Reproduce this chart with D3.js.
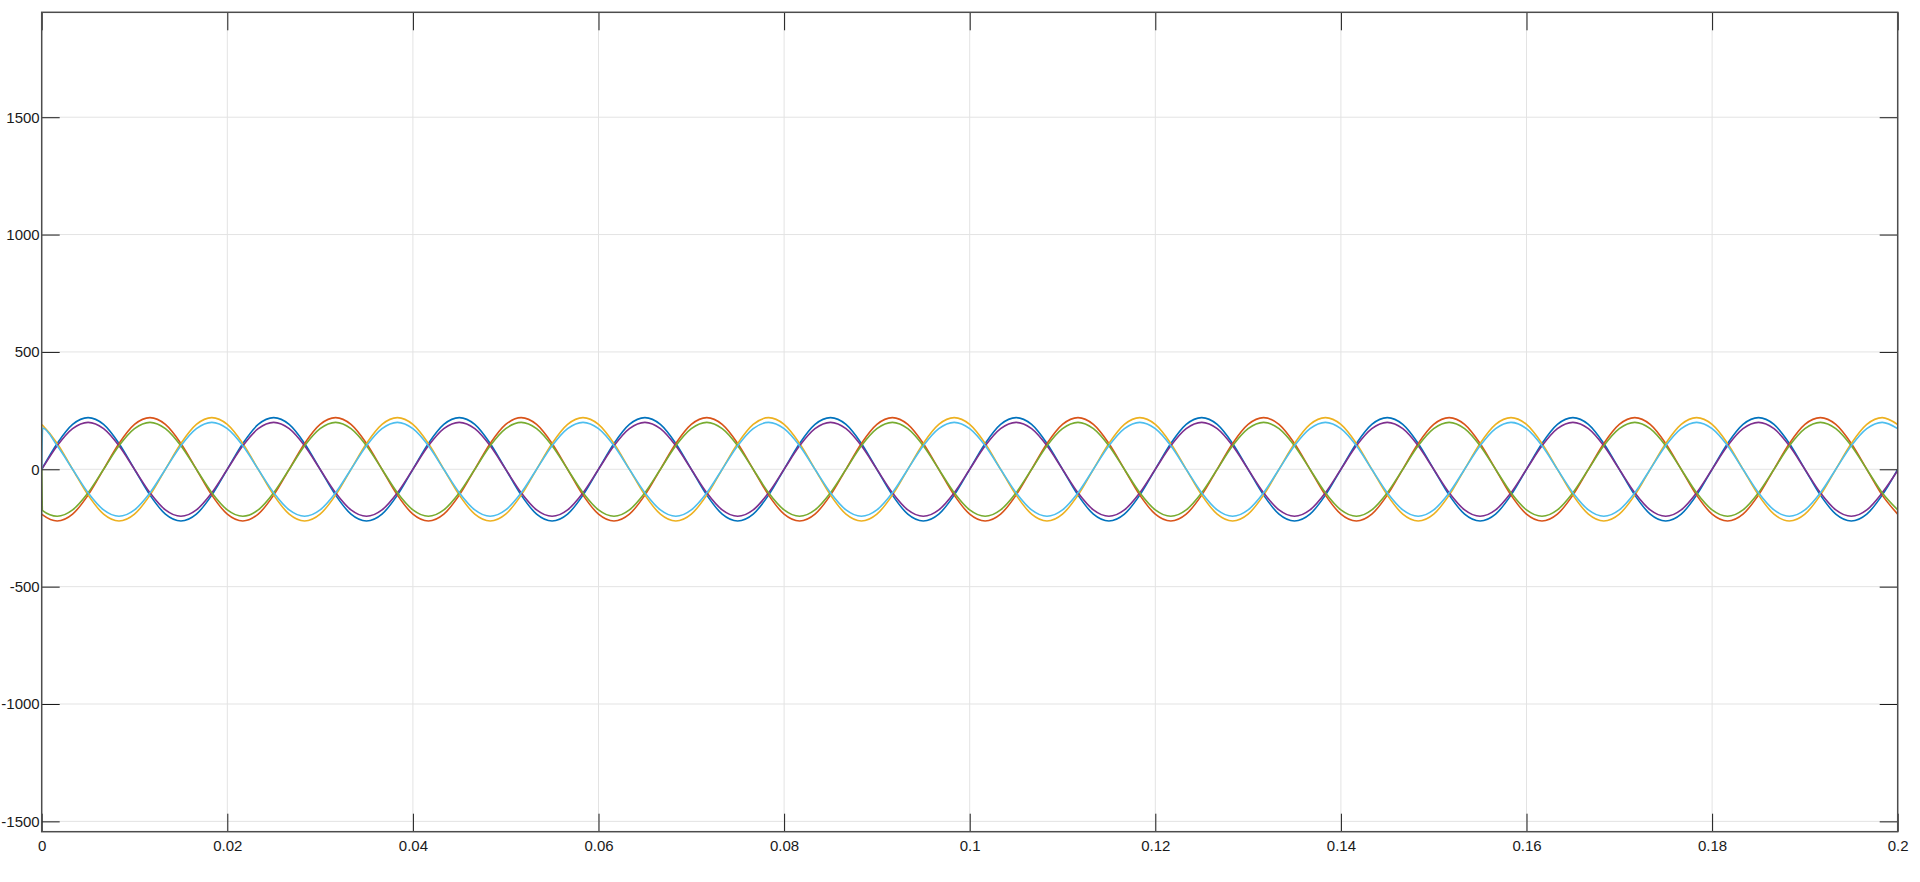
<!DOCTYPE html>
<html>
<head>
<meta charset="utf-8">
<script src="https://cdn.jsdelivr.net/npm/d3@7"></script>
<style>
  html, body { margin: 0; padding: 0; background: #fff; }
  svg { display: block; }
</style>
</head>
<body>
<svg id="chart" width="1920" height="882"></svg>
<script>
// ---- Data (time in seconds) ----
const time = [
  0,0.0001,0.00167,0.00333,0.005,0.00667,0.00833,0.01,0.01167,0.01333,0.015,0.01667,0.01833,
  0.02,0.02167,0.02333,0.025,0.02667,0.02833,0.03,0.03167,0.03333,0.035,0.03667,0.03833,
  0.04,0.04167,0.04333,0.045,0.04667,0.04833,0.05,0.05167,0.05333,0.055,0.05667,0.05833,
  0.06,0.06167,0.06333,0.065,0.06667,0.06833,0.07,0.07167,0.07333,0.075,0.07667,0.07833,
  0.08,0.08167,0.08333,0.085,0.08667,0.08833,0.09,0.09167,0.09333,0.095,0.09667,0.09833,
  0.1,0.10167,0.10333,0.105,0.10667,0.10833,0.11,0.11167,0.11333,0.115,0.11667,0.11833,
  0.12,0.12167,0.12333,0.125,0.12667,0.12833,0.13,0.13167,0.13333,0.135,0.13667,0.13833,
  0.14,0.14167,0.14333,0.145,0.14667,0.14833,0.15,0.15167,0.15333,0.155,0.15667,0.15833,
  0.16,0.16167,0.16333,0.165,0.16667,0.16833,0.17,0.17167,0.17333,0.175,0.17667,0.17833,
  0.18,0.18167,0.18333,0.185,0.18667,0.18833,0.19,0.19167,0.19333,0.195,0.19667,0.19833,
  0.2
];

const seriesBlue = [
  0,7,110,191,220,191,110,0,-110,-191,-220,-191,-110,
  0,110,191,220,191,110,0,-110,-191,-220,-191,-110,
  0,110,191,220,191,110,0,-110,-191,-220,-191,-110,
  0,110,191,220,191,110,0,-110,-191,-220,-191,-110,
  0,110,191,220,191,110,0,-110,-191,-220,-191,-110,
  0,110,191,220,191,110,0,-110,-191,-220,-191,-110,
  0,110,191,220,191,110,0,-110,-191,-220,-191,-110,
  0,110,191,220,191,110,0,-110,-191,-220,-191,-110,
  0,110,191,220,191,110,0,-110,-191,-220,-191,-110,
  0,110,191,220,191,110,0,-110,-191,-220,-191,-110,
  0
];
const seriesOrange = [
  -191,-194,-220,-191,-110,0,110,191,220,191,110,0,-110,
  -191,-220,-191,-110,0,110,191,220,191,110,0,-110,
  -191,-220,-191,-110,0,110,191,220,191,110,0,-110,
  -191,-220,-191,-110,0,110,191,220,191,110,0,-110,
  -191,-220,-191,-110,0,110,191,220,191,110,0,-110,
  -191,-220,-191,-110,0,110,191,220,191,110,0,-110,
  -191,-220,-191,-110,0,110,191,220,191,110,0,-110,
  -191,-220,-191,-110,0,110,191,220,191,110,0,-110,
  -191,-220,-191,-110,0,110,191,220,191,110,0,-110,
  -191,-220,-191,-110,0,110,191,220,191,110,0,-110,
  -191
];
const seriesYellow = [
  191,187,110,0,-110,-191,-220,-191,-110,0,110,191,220,
  191,110,0,-110,-191,-220,-191,-110,0,110,191,220,
  191,110,0,-110,-191,-220,-191,-110,0,110,191,220,
  191,110,0,-110,-191,-220,-191,-110,0,110,191,220,
  191,110,0,-110,-191,-220,-191,-110,0,110,191,220,
  191,110,0,-110,-191,-220,-191,-110,0,110,191,220,
  191,110,0,-110,-191,-220,-191,-110,0,110,191,220,
  191,110,0,-110,-191,-220,-191,-110,0,110,191,220,
  191,110,0,-110,-191,-220,-191,-110,0,110,191,220,
  191,110,0,-110,-191,-220,-191,-110,0,110,191,220,
  191
];
const seriesPurple = [
  0,6,100,173,200,173,100,0,-100,-173,-200,-173,-100,
  0,100,173,200,173,100,0,-100,-173,-200,-173,-100,
  0,100,173,200,173,100,0,-100,-173,-200,-173,-100,
  0,100,173,200,173,100,0,-100,-173,-200,-173,-100,
  0,100,173,200,173,100,0,-100,-173,-200,-173,-100,
  0,100,173,200,173,100,0,-100,-173,-200,-173,-100,
  0,100,173,200,173,100,0,-100,-173,-200,-173,-100,
  0,100,173,200,173,100,0,-100,-173,-200,-173,-100,
  0,100,173,200,173,100,0,-100,-173,-200,-173,-100,
  0,100,173,200,173,100,0,-100,-173,-200,-173,-100,
  -5
];
const seriesGreen = [
  0,-176,-200,-173,-100,0,100,173,200,173,100,0,-100,
  -173,-200,-173,-100,0,100,173,200,173,100,0,-100,
  -173,-200,-173,-100,0,100,173,200,173,100,0,-100,
  -173,-200,-173,-100,0,100,173,200,173,100,0,-100,
  -173,-200,-173,-100,0,100,173,200,173,100,0,-100,
  -173,-200,-173,-100,0,100,173,200,173,100,0,-100,
  -173,-200,-173,-100,0,100,173,200,173,100,0,-100,
  -173,-200,-173,-100,0,100,173,200,173,100,0,-100,
  -173,-200,-173,-100,0,100,173,200,173,100,0,-100,
  -173,-200,-173,-100,0,100,173,200,173,100,0,-100,
  -173
];
const seriesCyan = [
  0,176,100,0,-100,-173,-200,-173,-100,0,100,173,200,
  173,100,0,-100,-173,-200,-173,-100,0,100,173,200,
  173,100,0,-100,-173,-200,-173,-100,0,100,173,200,
  173,100,0,-100,-173,-200,-173,-100,0,100,173,200,
  173,100,0,-100,-173,-200,-173,-100,0,100,173,200,
  173,100,0,-100,-173,-200,-173,-100,0,100,173,200,
  173,100,0,-100,-173,-200,-173,-100,0,100,173,200,
  173,100,0,-100,-173,-200,-173,-100,0,100,173,200,
  173,100,0,-100,-173,-200,-173,-100,0,100,173,200,
  173,100,0,-100,-173,-200,-173,-100,0,100,173,200,
  173
];

const xTicks = [0,0.02,0.04,0.06,0.08,0.1,0.12,0.14,0.16,0.18,0.2];
const xTickLabels = ["0","0.02","0.04","0.06","0.08","0.1","0.12","0.14","0.16","0.18","0.2"];
const yTicks = [-1500,-1000,-500,0,500,1000,1500];
const yTickLabels = ["-1500","-1000","-500","0","500","1000","1500"];

const seriesList = [
  {values: seriesBlue,   color: "#0072BD"},
  {values: seriesOrange, color: "#D95319"},
  {values: seriesYellow, color: "#EDB120"},
  {values: seriesPurple, color: "#7E2F8E"},
  {values: seriesGreen,  color: "#77AC30"},
  {values: seriesCyan,   color: "#4DBEEE"}
];

(function () {
  // ---- Layout ----
  const pl = 41.7, pr = 1897.7, pt = 12.3, pb = 831.7;
  const svg = d3.select("#chart");

  const x = d3.scaleLinear().domain([0, 0.2]).range([pl, pr]);
  const y = d3.scaleLinear().domain([-1544, 1947]).range([pb, pt]);

  // grid
  const grid = svg.append("g");
  grid.selectAll("line.gx").data(xTicks).enter().append("line")
    .attr("x1", d => x(d)).attr("x2", d => x(d))
    .attr("y1", pt).attr("y2", pb)
    .attr("stroke", "#e3e3e3").attr("stroke-width", 1);
  grid.selectAll("line.gy").data(yTicks).enter().append("line")
    .attr("x1", pl).attr("x2", pr)
    .attr("y1", d => y(d)).attr("y2", d => y(d))
    .attr("stroke", "#e3e3e3").attr("stroke-width", 1);

  // clip
  svg.append("clipPath").attr("id", "clip").append("rect")
    .attr("x", pl).attr("y", pt).attr("width", pr - pl).attr("height", pb - pt);

  const line = d3.line()
    .x((d, i) => x(time[i]))
    .y(d => y(d))
    .curve(d3.curveMonotoneX);

  const lines = svg.append("g").attr("clip-path", "url(#clip)");
  seriesList.forEach(s => {
    lines.append("path")
      .attr("d", line(s.values))
      .attr("fill", "none")
      .attr("stroke", s.color)
      .attr("stroke-width", 1.6)
      .attr("stroke-linejoin", "round");
  });

  // axes with inward ticks (MATLAB style)
  const tickLen = 18;
  const font = "'Liberation Sans', Arial, Helvetica, sans-serif";

  const axB = d3.axisBottom(x).tickValues(xTicks).tickFormat((d, i) => xTickLabels[i])
    .tickSizeInner(-tickLen).tickSizeOuter(0).tickPadding(9);
  const gB = svg.append("g").attr("transform", `translate(0,${pb})`).call(axB);

  const axT = d3.axisTop(x).tickValues(xTicks).tickFormat("")
    .tickSizeInner(-tickLen).tickSizeOuter(0);
  const gT = svg.append("g").attr("transform", `translate(0,${pt})`).call(axT);

  const axL = d3.axisLeft(y).tickValues(yTicks).tickFormat((d, i) => yTickLabels[i])
    .tickSizeInner(-tickLen).tickSizeOuter(0).tickPadding(2);
  const gL = svg.append("g").attr("transform", `translate(${pl},0)`).call(axL);

  const axR = d3.axisRight(y).tickValues(yTicks).tickFormat("")
    .tickSizeInner(-tickLen).tickSizeOuter(0);
  const gR = svg.append("g").attr("transform", `translate(${pr},0)`).call(axR);

  [gB, gT, gL, gR].forEach(g => {
    g.select(".domain").remove();
    g.selectAll(".tick line").attr("stroke", "#1a1a1a").attr("stroke-width", 1);
    g.selectAll(".tick text").attr("fill", "#1a1a1a")
      .style("font-family", font).style("font-size", "15px");
  });

  // frame
  svg.append("rect")
    .attr("x", pl).attr("y", pt)
    .attr("width", pr - pl).attr("height", pb - pt)
    .attr("fill", "none").attr("stroke", "#4d4d4d").attr("stroke-width", 1.5);
})();
</script>
</body>
</html>
